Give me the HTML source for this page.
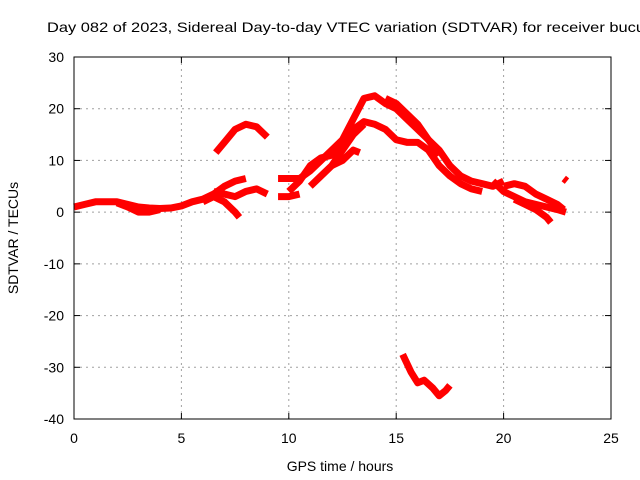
<!DOCTYPE html>
<html><head><meta charset="utf-8"><style>
body{margin:0;background:#fff}
svg{display:block;font-family:"Liberation Sans",sans-serif}
</style></head><body>
<svg id="c" width="640" height="480">
<text x="47" y="32" font-size="14" textLength="598" lengthAdjust="spacingAndGlyphs">Day 082 of 2023, Sidereal Day-to-day VTEC variation (SDTVAR) for receiver bucu</text>
<text x="340" y="471" font-size="14" text-anchor="middle">GPS time / hours</text>
<text transform="translate(18,238) rotate(-90)" font-size="14" text-anchor="middle">SDTVAR / TECUs</text>
<g id="grid"></g>
<g id="marks"></g>
<rect x="74" y="57" width="537" height="362" fill="none" stroke="#000"/>
<g id="ticks"></g>
</svg>
<script>
const xTicks=[0,5,10,15,20,25];
const yTicks=[30,20,10,0,-10,-20,-30,-40];
const s1=[[0,1],[0.5,1.5],[1,2],[2,2],[2.5,1.5],[3,1],[3.5,0.8],[4,0.7],[4.5,0.8],[5,1.2],[5.5,2],[6,2.5],[6.5,3.5],[7,5],[7.5,6],[8,6.5]];
const s2=[[2,1.8],[2.5,1],[3,0],[3.5,0],[4,0.5]];
const s3=[[6,2],[6.5,3],[7,2],[7.5,0],[7.7,-1]];
const s4=[[6.5,4],[7,3.5],[7.5,3],[8,4],[8.5,4.5],[9,3.5]];
const s5=[[6.6,11.5],[7,13.5],[7.5,16],[8,17],[8.5,16.5],[9,14.5]];
const s6=[[9.5,3],[10,3],[10.5,3.5]];
const s7=[[9.5,6.5],[10.5,6.5],[11,8],[11.5,10],[12,12],[12.5,14],[13,18],[13.5,22],[14,22.5],[14.5,21],[15,20],[15.5,18],[16,16],[16.5,14],[17,12],[17.5,9],[18,7],[18.5,6],[19,5.5],[19.5,5],[20,6]];
const s8=[[10,4],[10.5,6],[11,9],[11.5,10.5],[12,11],[12.5,13],[13,16],[13.5,17.5],[14,17],[14.5,16],[15,14],[15.5,13.5],[16,13.5],[16.5,12],[17,9],[17.5,7],[18,5.5],[18.5,4.5],[19,4]];
const s9=[[11,5],[11.5,7],[12,9],[12.5,12],[13,15],[13.5,17]];
const s10=[[12,9],[12.5,10],[13,12],[13.3,11.5]];
const s11=[[14.5,22],[15,21],[15.5,19],[16,17],[16.5,14],[17,11]];
const s12=[[20,5],[20.5,5.5],[21,5],[21.5,3.5],[22,2.5],[22.5,1.5],[22.8,0.5]];
const s13=[[20.5,2.5],[21,1.5],[21.5,0.5],[22,-1],[22.2,-2]];
const s14=[[19.5,6],[20,4],[20.5,3],[21,2],[21.5,1.5],[22,1],[22.5,0.5],[22.9,0]];
const s15=[[22.8,6.5],[22.95,6]];
const s16=[[15.3,-27.5],[15.7,-31],[16,-33],[16.3,-32.5],[16.7,-34],[17,-35.5],[17.3,-34.5],[17.5,-33.5]];
const series=[s1,s2,s3,s4,s5,s6,s7,s8,s9,s10,s11,s12,s13,s14,s15,s16];
const X=v=>74+v*(537/25), Y=v=>57+(30-v)*(362/70);
const NS='http://www.w3.org/2000/svg';
const G=document.getElementById('grid'),T=document.getElementById('ticks'),M=document.getElementById('marks');
function mk(t,a,p){const e=document.createElementNS(NS,t);for(const k in a)e.setAttribute(k,a[k]);p.appendChild(e);return e;}
xTicks.forEach(v=>{
 if(v>0&&v<25){const l=mk('line',{x1:X(v),x2:X(v),y1:57,y2:419,stroke:'#a0a0a0','stroke-dasharray':'2,4'},G);
 
 }
 mk('line',{x1:X(v),x2:X(v),y1:419,y2:413,stroke:'#000'},T);
 mk('line',{x1:X(v),x2:X(v),y1:57,y2:63,stroke:'#000'},T);
 const t=mk('text',{x:X(v),y:443,'font-size':14,'text-anchor':'middle'},T);t.textContent=v;
 
 
});
yTicks.forEach(v=>{
 if(v>-40&&v<30){const l=mk('line',{x1:74,x2:611,y1:Y(v),y2:Y(v),stroke:'#a0a0a0','stroke-dasharray':'2,4'},G);
 
 }
 mk('line',{x1:74,x2:80,y1:Y(v),y2:Y(v),stroke:'#000'},T);
 mk('line',{x1:605,x2:611,y1:Y(v),y2:Y(v),stroke:'#000'},T);
 const t=mk('text',{x:64,y:Y(v)+5,'font-size':14,'text-anchor':'end'},T);t.textContent=v;
 
 
});
series.forEach(s=>{
 const p=mk('polyline',{points:s.map(d=>X(d[0])+','+Y(d[1])).join(' '),fill:'none',stroke:'#f00','stroke-width':7,'stroke-linejoin':'round'},M);
 
 
});
</script>
</body></html>
